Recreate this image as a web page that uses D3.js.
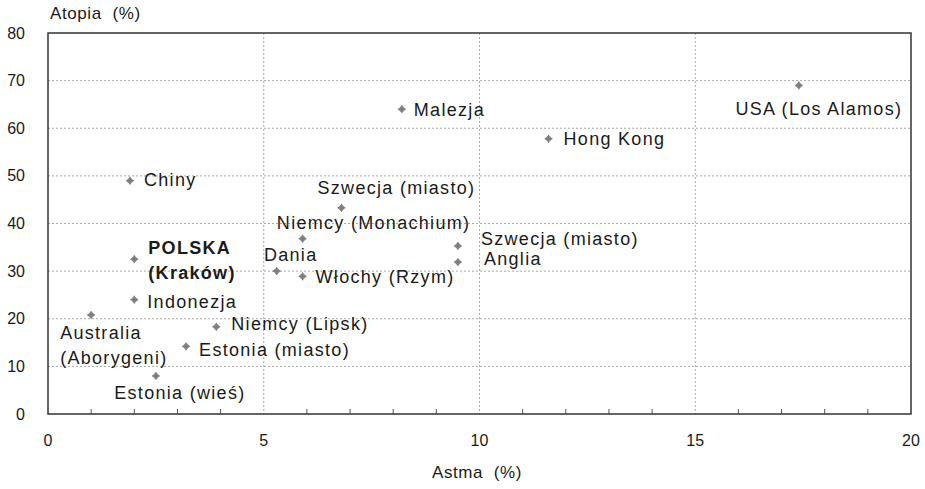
<!DOCTYPE html>
<html>
<head>
<meta charset="utf-8">
<script src="https://cdn.jsdelivr.net/npm/d3@7"></script>
<style>
  body { margin: 0; background: #fff; }
  text { font-family: "Liberation Sans", Arial, sans-serif; fill: #1a1a1a; }
</style>
</head>
<body>
<div id="chart"></div>
<script>
// data
const names = [
    "USA (Los Alamos)", "Malezja", "Hong Kong", "Chiny", "Szwecja (miasto)",
    "Niemcy (Monachium)", "Szwecja (miasto)", "Anglia", "Dania", "Włochy (Rzym)",
    "POLSKA|(Kraków)", "Indonezja", "Australia|(Aborygeni)", "Niemcy (Lipsk)",
    "Estonia (miasto)", "Estonia (wieś)"
];
const astma = [17.4, 8.2, 11.6, 1.9, 6.8, 5.9, 9.5, 9.5, 5.3, 5.9, 2.0, 2.0, 1.0, 3.9, 3.2, 2.5];
const atopia = [69, 64, 57.8, 49, 43.3, 36.8, 35.3, 31.9, 30, 28.9, 32.5, 24, 20.8, 18.3, 14.2, 8];
const xTicks = [0, 5, 10, 15, 20];
const yTicks = [0, 10, 20, 30, 40, 50, 60, 70, 80];

// label placement (px offsets from the marker, anchor)
const labelPos = [
    {dx: 20, dy: 23, a: "middle"}, {dx: 12, dy: 0, a: "start"}, {dx: 15, dy: 0, a: "start"},
    {dx: 14, dy: -1, a: "start"}, {dx: 55, dy: -20, a: "middle"}, {dx: 71, dy: -16, a: "middle"},
    {dx: 23, dy: -7, a: "start"}, {dx: 26, dy: -3, a: "start"}, {dx: 14, dy: -16, a: "middle"},
    {dx: 13, dy: 0, a: "start"}, {dx: 14, dy: -12, a: "start", bold: true}, {dx: 13, dy: 2, a: "start"},
    {dx: -31, dy: 18, a: "start"}, {dx: 15, dy: -3, a: "start"}, {dx: 13, dy: 3, a: "start"},
    {dx: 24, dy: 17, a: "middle"}
];

let margin = {top: 33, right: 14, bottom: 75, left: 48};
let width = 925 - margin.left - margin.right;
let height = 489 - margin.top - margin.bottom;

let svg = d3.select("#chart").append("svg")
    .attr("width", 925)
    .attr("height", 489);

let g = svg.append("g")
    .attr("transform", `translate(${margin.left},${margin.top})`);

let x = d3.scaleLinear().domain([0, 20]).range([0, width]);
let y = d3.scaleLinear().domain([0, 80]).range([height, 0]);

// gridlines
g.selectAll(".hgrid")
    .data(yTicks.filter(d => d > 0 && d < 80))
    .enter().append("line")
    .attr("x1", 0).attr("x2", width)
    .attr("y1", d => y(d)).attr("y2", d => y(d))
    .attr("stroke", "#a8a8a8").attr("stroke-dasharray", "2,2");

g.selectAll(".vgrid")
    .data(xTicks.filter(d => d > 0 && d < 20))
    .enter().append("line")
    .attr("y1", 0).attr("y2", height)
    .attr("x1", d => x(d)).attr("x2", d => x(d))
    .attr("stroke", "#a8a8a8").attr("stroke-dasharray", "2,2");

// minor ticks on the x axis
g.selectAll(".minor")
    .data(d3.range(1, 20).filter(d => d % 5 != 0))
    .enter().append("line")
    .attr("x1", d => x(d)).attr("x2", d => x(d))
    .attr("y1", height).attr("y2", height - 5)
    .attr("stroke", "#555");

// frame
g.append("rect")
    .attr("width", width).attr("height", height)
    .attr("fill", "none").attr("stroke", "#333").attr("stroke-width", 1.5);

// tick labels
g.selectAll(".ylab")
    .data(yTicks)
    .enter().append("text")
    .attr("x", -23).attr("y", d => y(d))
    .attr("dy", "0.35em")
    .attr("text-anchor", "end")
    .style("font-size", "16px")
    .text(d => d);

g.selectAll(".xlab")
    .data(xTicks)
    .enter().append("text")
    .attr("x", d => x(d)).attr("y", height + 26)
    .attr("dy", "0.35em")
    .attr("text-anchor", "middle")
    .style("font-size", "16px")
    .text(d => d);

// axis titles
svg.append("text")
    .attr("x", 50).attr("y", 13).attr("dy", "0.35em")
    .style("font-size", "17px")
    .style("letter-spacing", "0.6px")
    .style("white-space", "pre")
    .text("Atopia  (%)");

svg.append("text")
    .attr("x", 477).attr("y", 472).attr("dy", "0.35em")
    .attr("text-anchor", "middle")
    .style("font-size", "17px")
    .style("letter-spacing", "0.6px")
    .style("white-space", "pre")
    .text("Astma  (%)");

// markers: small diamond with a cross through it
let pts = g.selectAll(".pt")
    .data(names)
    .enter().append("g")
    .attr("transform", (d, i) => `translate(${x(astma[i])},${y(atopia[i])})`);

pts.append("path")
    .attr("d", d3.symbol().type(d3.symbolSquare).size(30))
    .attr("transform", "rotate(45)")
    .attr("fill", "#888");

pts.append("path")
    .attr("d", "M-4,0H4M0,-4V4")
    .attr("stroke", "#777")
    .attr("stroke-width", 0.8);

// labels
names.forEach((name, i) => {
    let p = labelPos[i];
    let lines = name.split("|");
    let t = g.append("text")
        .attr("x", x(astma[i]) + p.dx)
        .attr("y", y(atopia[i]) + p.dy)
        .attr("dy", "0.35em")
        .attr("text-anchor", p.a)
        .style("font-size", "18px")
        .style("letter-spacing", "1.3px")
        .style("font-weight", p.bold ? "bold" : "normal");
    lines.forEach((line, j) => {
        t.append("tspan")
            .attr("x", x(astma[i]) + p.dx)
            .attr("dy", j == 0 ? "0.35em" : "25px")
            .text(line);
    });
});
</script>
</body>
</html>
